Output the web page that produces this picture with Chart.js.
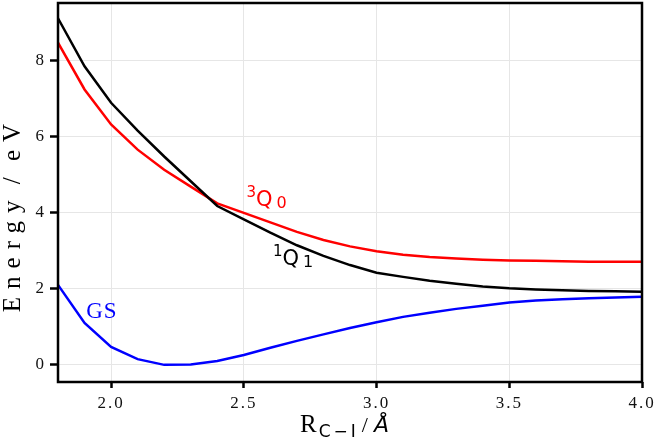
<!DOCTYPE html>
<html>
<head>
<meta charset="utf-8">
<script src="https://cdn.jsdelivr.net/npm/chart.js@4"></script>
<style>
  html, body { margin: 0; padding: 0; background: #fff; }
  #wrap { width: 654px; height: 441px; }
</style>
</head>
<body>
<div id="wrap"><canvas id="grafico"></canvas></div>
<script>
// C-I bond distance (Angstrom)
const rVals = [1.8, 1.9, 2.0, 2.1, 2.2, 2.3, 2.4, 2.5, 2.6, 2.7, 2.8, 2.9,
               3.0, 3.1, 3.2, 3.3, 3.4, 3.5, 3.6, 3.7, 3.8, 3.9, 4.0];
// energies (eV)
const gsVals = [2.10, 1.10, 0.47, 0.15, 0.00, 0.01, 0.10, 0.26, 0.45, 0.63, 0.80, 0.97,
                1.12, 1.26, 1.37, 1.47, 1.55, 1.64, 1.69, 1.72, 1.75, 1.77, 1.79];
const q1Vals = [9.10, 7.84, 6.88, 6.15, 5.47, 4.82, 4.17, 3.82, 3.47, 3.14, 2.86, 2.62,
                2.42, 2.31, 2.21, 2.13, 2.06, 2.01, 1.98, 1.96, 1.94, 1.93, 1.92];
const q0Vals = [8.46, 7.23, 6.31, 5.65, 5.12, 4.68, 4.24, 3.99, 3.74, 3.49, 3.28, 3.11,
                2.98, 2.89, 2.83, 2.79, 2.76, 2.74, 2.73, 2.72, 2.71, 2.71, 2.71];
const xTicks = [2.0, 2.5, 3.0, 3.5, 4.0];
const yTicks = [0, 2, 4, 6, 8];

function pts(vals) {
    return rVals.map(function(r, i) { return { x: r, y: vals[i] }; });
}

const serif = '"Liberation Serif", "DejaVu Serif", serif';
const sans = '"DejaVu Sans", sans-serif';

// frame, axis titles and curve labels
const extras = {
    id: 'extras',
    beforeDraw: function(chart) {
        chart.ctx.letterSpacing = '2px';
    },
    afterDraw: function(chart) {
        const ctx = chart.ctx;
        const a = chart.chartArea;
        const xs = chart.scales.x, ys = chart.scales.y;
        ctx.save();
        ctx.letterSpacing = '0px';
        ctx.strokeStyle = '#000';
        ctx.lineWidth = 2.5;
        ctx.strokeRect(a.left, a.top, a.right - a.left, a.bottom - a.top);

        ctx.textAlign = 'left';
        ctx.textBaseline = 'alphabetic';

        // y title
        ctx.save();
        ctx.translate(20, 214);
        ctx.rotate(-Math.PI / 2);
        ctx.font = '25px ' + serif;
        ctx.letterSpacing = '8px';
        ctx.wordSpacing = '-6px';
        ctx.fillStyle = '#000';
        ctx.textAlign = 'center';
        ctx.fillText('Energy / eV', 0, 0);
        ctx.restore();

        // x title
        let x = 300, y = 432;
        ctx.fillStyle = '#000';
        ctx.font = '25px ' + serif;
        ctx.fillText('R', x, y);
        x += ctx.measureText('R').width + 2;
        ctx.font = '17px ' + sans;
        ctx.letterSpacing = '3px';
        ctx.fillText('C\u2212I', x, y + 5);
        x += ctx.measureText('C\u2212I').width + 3;
        ctx.letterSpacing = '0px';
        ctx.font = '22px ' + serif;
        ctx.fillText('/', x, y);
        x += ctx.measureText('/').width + 6;
        ctx.font = 'italic 22px ' + sans;
        ctx.fillText('\u00C5', x, y);

        // curve labels
        function label(sup, main, sub, r, e, color) {
            let px = xs.getPixelForValue(r), py = ys.getPixelForValue(e);
            ctx.fillStyle = color;
            ctx.font = '15px ' + sans;
            ctx.fillText(sup, px, py - 9);
            px += ctx.measureText(sup).width;
            ctx.font = '21px ' + sans;
            ctx.fillText(main, px, py);
            px += ctx.measureText(main).width + 4;
            ctx.font = '16px ' + sans;
            ctx.fillText(sub, px, py + 2);
        }
        label('3', 'Q', '0', 2.51, 4.18, '#ff0000');
        label('1', 'Q', '1', 2.61, 2.62, '#000000');

        ctx.fillStyle = '#0000ff';
        ctx.font = '23px ' + serif;
        ctx.letterSpacing = '1px';
        ctx.fillText('GS', xs.getPixelForValue(1.906), ys.getPixelForValue(1.23));
        ctx.restore();
    }
};

const ctx = document.getElementById('grafico').getContext('2d');
new Chart(ctx, {
    type: 'line',
    data: {
        datasets: [
            { label: 'GS', data: pts(gsVals), borderColor: '#0000ff' },
            { label: '1Q1', data: pts(q1Vals), borderColor: '#000000' },
            { label: '3Q0', data: pts(q0Vals), borderColor: '#ff0000' }
        ]
    },
    options: {
        responsive: true,
        maintainAspectRatio: false,
        animation: false,
        layout: { padding: { top: 3, right: 12, left: 0, bottom: 0 } },
        elements: {
            line: { borderWidth: 2.5, tension: 0, fill: false },
            point: { radius: 0 }
        },
        plugins: {
            legend: { display: false },
            tooltip: { enabled: false }
        },
        scales: {
            x: {
                type: 'linear',
                min: 1.8,
                max: 4.0,
                afterBuildTicks: function(s) { s.ticks = xTicks.map(function(v) { return { value: v }; }); },
                afterFit: function(s) { s.height = 59; s.paddingLeft = 0; s.paddingRight = 0; },
                grid: { color: '#e6e6e6', lineWidth: 1, tickColor: '#000', tickLength: 6, tickWidth: 2.5 },
                border: { display: false },
                ticks: {
                    color: '#111',
                    padding: 5,
                    maxRotation: 0,
                    font: { family: serif, size: 17 },
                    callback: function(v) { return v.toFixed(1); }
                }
            },
            y: {
                min: -0.45,
                max: 9.5,
                afterBuildTicks: function(s) { s.ticks = yTicks.map(function(v) { return { value: v }; }); },
                afterFit: function(s) { s.width = 58; s.paddingTop = 0; s.paddingBottom = 0; },
                grid: { color: '#e6e6e6', lineWidth: 1, tickColor: '#000', tickLength: 8, tickWidth: 2.5 },
                border: { display: false },
                ticks: {
                    color: '#111',
                    padding: 4,
                    font: { family: serif, size: 17 },
                    callback: function(v) { return String(v); }
                }
            }
        }
    },
    plugins: [extras]
});
</script>
</body>
</html>
